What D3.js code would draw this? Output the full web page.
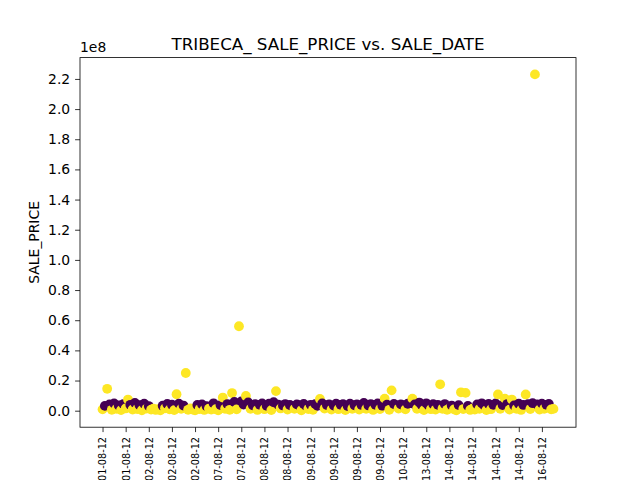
<!DOCTYPE html>
<html lang="en">
<head>
  <meta charset="UTF-8">
  <title>TRIBECA_ SALE_PRICE vs. SALE_DATE</title>
  <script src="https://d3js.org/d3.v7.min.js"></script>
  <style>
    body { margin: 0; background: #fff; }
    text { font-family: "DejaVu Sans", sans-serif; fill: #000; }
  </style>
</head>
<body>
<div id="myDiv"></div>
<script>
// sale prices in millions of dollars, one per sale row (in date order)
var salePrice = [
  0.9, 3.2, 14.5, 4.1, 0.6, 4.8, 1.2, 3.5, 0.4, 4.4,
  1.5, 7.4, 3.9, 0.8, 5.2, 1.1, 3.6, 0.3, 4.6, 1.4,
  3.1, 0.7, 1.3, 0.5, 1.0, 0.2, 3.3, 1.6, 4.5, 0.9,
  4.0, 0.4, 10.9, 4.7, 1.2, 3.4, 25.0, 0.6, 1.5, 0.8,
  0.3, 3.8, 1.1, 4.2, 0.5, 3.0, 1.4, 0.7, 4.9, 1.0,
  0.2, 3.7, 8.7, 1.3, 4.4, 0.6, 11.7, 5.8, 0.9, 56.0,
  6.2, 4.1, 9.8, 5.5, 1.2, 3.6, 4.3, 0.5, 3.9, 4.8,
  1.0, 3.2, 4.6, 0.4, 5.6, 13.0, 4.0, 1.5, 3.5, 4.4,
  0.8, 3.8, 3.1, 1.2, 4.2, 3.6, 0.3, 4.5, 3.3, 1.1,
  3.9, 0.6, 4.4, 3.2, 7.8, 4.8, 1.4, 3.7, 4.1, 0.7,
  3.4, 4.6, 1.0, 3.9, 4.3, 0.4, 3.1, 4.7, 1.3, 3.6,
  4.2, 0.8, 3.8, 5.1, 1.2, 3.5, 4.4, 0.5, 3.9, 4.8,
  1.1, 3.3, 8.0, 4.0, 0.6, 13.5, 4.5, 3.7, 1.4, 4.2,
  3.6, 0.9, 4.6, 5.0, 8.0, 4.1, 1.2, 5.4, 3.8, 0.4,
  4.9, 3.5, 1.0, 4.3, 0.7, 3.9, 17.5, 1.3, 4.4, 0.6,
  1.5, 3.4, 0.9, 0.3, 3.7, 12.2, 1.1, 11.8, 3.2, 0.5,
  1.4, 0.8, 4.2, 1.2, 4.9, 3.6, 0.4, 4.5, 1.0, 3.9,
  4.8, 10.8, 1.3, 3.7, 8.0, 4.4, 0.7, 7.4, 3.5, 1.2,
  4.6, 0.5, 3.8, 10.8, 4.3, 1.1, 5.0, 223.0, 4.1, 0.8,
  4.7, 1.3, 3.9, 4.5, 0.9, 1.2
];
// colour class of each row (0 = purple, 1 = yellow)
var saleClass = [
  1,0,1,0,1,0,1,0,1,0,
  1,1,0,1,0,1,0,1,0,1,
  0,1,1,1,1,1,0,1,0,1,
  0,1,1,0,1,0,1,1,1,1,
  1,0,1,0,1,0,1,1,0,1,
  1,0,1,1,0,1,1,0,1,1,
  0,0,1,0,1,0,0,1,0,0,
  1,0,0,1,0,1,0,1,0,0,
  1,0,0,1,0,0,1,0,0,1,
  0,1,0,0,1,0,1,0,0,1,
  0,0,1,0,0,1,0,0,1,0,
  0,1,0,0,1,0,0,1,0,0,
  1,0,1,0,1,1,0,0,1,0,
  0,1,0,0,1,0,1,0,0,1,
  0,0,1,0,1,0,1,1,0,1,
  1,0,1,1,0,1,1,1,0,1,
  1,1,0,1,0,0,1,0,1,0,
  0,1,1,0,1,0,1,1,0,1,
  0,1,0,1,0,1,0,1,0,1,
  0,1,0,0,1,1
];
// x ticks: row index and the sale date shown there
var tickRows = [0, 10, 20, 30, 40, 50, 60, 70, 80, 90, 100, 110, 120, 130, 140, 150, 160, 170, 180, 190];
var tickLabels = ["01-08-12", "01-08-12", "02-08-12", "02-08-12", "02-08-12", "07-08-12", "07-08-12",
  "08-08-12", "08-08-12", "09-08-12", "09-08-12", "09-08-12", "09-08-12", "10-08-12", "13-08-12",
  "14-08-12", "14-08-12", "14-08-12", "14-08-12", "16-08-12"];
// y ticks in units of 1e8
var yTicks = [0.0, 0.2, 0.4, 0.6, 0.8, 1.0, 1.2, 1.4, 1.6, 1.8, 2.0, 2.2];

var classColors = ["#440154", "#fde725"];

var svgW = 640, svgH = 480;
var plotLeft = 80, plotRight = 576, plotTop = 57.6, plotBottom = 427.2;

var data = salePrice.map(function(p, i) {
  return { row: i, price: p / 100, cls: saleClass[i] };   // price in 1e8
});

// matplotlib style 5% margins
var n = data.length - 1;
var xScale = d3.scaleLinear()
  .domain([-0.05 * n, n * 1.05])
  .range([plotLeft, plotRight]);

var yExt = d3.extent(data, function(d) { return d.price; });
var ySpan = yExt[1] - yExt[0];
var yScale = d3.scaleLinear()
  .domain([yExt[0] - 0.05 * ySpan, yExt[1] + 0.05 * ySpan])
  .range([plotBottom, plotTop]);

var svg = d3.select("#myDiv").append("svg")
  .attr("width", svgW)
  .attr("height", svgH);

// points
svg.append("g").selectAll("circle")
  .data(data)
  .enter()
  .append("circle")
  .attr("cx", function(d) { return xScale(d.row); })
  .attr("cy", function(d) { return yScale(d.price); })
  .attr("r", 4.9)
  .attr("fill", function(d) { return classColors[d.cls]; });

// y axis
var yAxis = d3.axisLeft(yScale)
  .tickValues(yTicks)
  .tickFormat(d3.format(".1f"))
  .tickSize(4.9)
  .tickPadding(4.9);
var gy = svg.append("g")
  .attr("transform", "translate(" + plotLeft + ",0)")
  .call(yAxis);
gy.select(".domain").remove();
gy.selectAll("line").attr("stroke", "#000").attr("stroke-width", 0.8);
gy.selectAll("text").style("font-size", "13.9px").style("font-family", "DejaVu Sans");

// x axis with date labels
var xAxis = d3.axisBottom(xScale)
  .tickValues(tickRows)
  .tickFormat(function(d, i) { return tickLabels[i]; })
  .tickSize(4.9);
var gx = svg.append("g")
  .attr("transform", "translate(0," + plotBottom + ")")
  .call(xAxis);
gx.select(".domain").remove();
gx.selectAll("line").attr("stroke", "#000").attr("stroke-width", 0.8);
gx.selectAll("text")
  .style("font-size", "9.7px")
  .style("font-family", "DejaVu Sans")
  .attr("text-anchor", "end")
  .attr("dy", "0.35em")
  .attr("y", 0)
  .attr("x", -9.8)
  .attr("transform", "rotate(-90)");

// frame
svg.append("rect")
  .attr("x", plotLeft).attr("y", plotTop)
  .attr("width", plotRight - plotLeft).attr("height", plotBottom - plotTop)
  .attr("fill", "none")
  .attr("stroke", "#000")
  .attr("stroke-width", 0.8);

// offset text, title, y label
svg.append("text")
  .attr("x", plotLeft).attr("y", 52)
  .style("font-size", "13.9px")
  .text("1e8");

svg.append("text")
  .attr("x", (plotLeft + plotRight) / 2).attr("y", 49.5)
  .attr("text-anchor", "middle")
  .style("font-size", "16.7px")
  .text("TRIBECA_ SALE_PRICE vs. SALE_DATE");

svg.append("text")
  .attr("transform", "translate(39," + ((plotTop + plotBottom) / 2) + ") rotate(-90)")
  .attr("text-anchor", "middle")
  .style("font-size", "13.9px")
  .text("SALE_PRICE");
</script>
</body>
</html>
